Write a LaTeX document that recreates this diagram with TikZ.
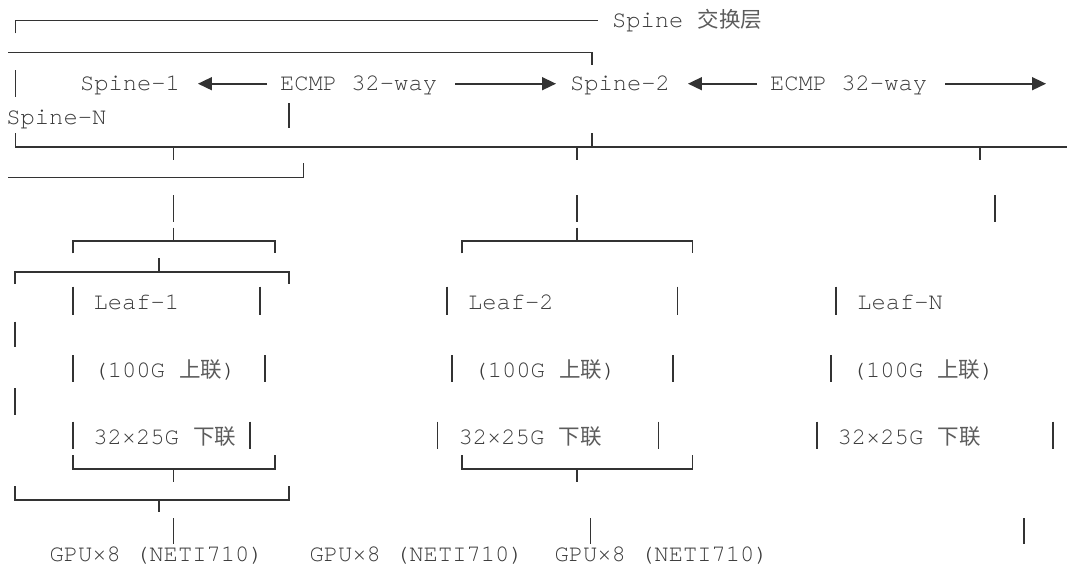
\documentclass[tikz,border=0pt]{standalone}
\usepackage{fontspec}
\setmainfont{TeX Gyre Cursor}
\newfontfamily\cjk{Noto Sans CJK SC}
\usepackage{tikz}
\usetikzlibrary{arrows.meta}
\definecolor{inkline}{HTML}{333333}
\definecolor{inktext}{HTML}{3A3A3A}
\definecolor{inkcjk}{HTML}{5C5C5C}
\newcommand{\monosize}{\fontsize{23.8pt}{28pt}\selectfont}
\newcommand{\zh}[1]{{\cjk\fontsize{21.5pt}{26pt}\selectfont\color{inkcjk}#1}}
\tikzstyle{asciitext}=[anchor=base west, inner sep=0, outer sep=0, text height=14pt, text depth=0pt, text=inktext, font=\monosize]
\tikzstyle{wire}=[draw=inkline, line width=1.6pt]
\tikzstyle{ecmplink}=[wire, line width=1.6pt, -{Triangle[length=14pt, width=13pt]}]
\tikzstyle{asciiart}=[x=1pt, y=-1pt,
                      % Fix the page to the size of the screen dump.
                      execute at begin picture={\useasboundingbox (0, 0) rectangle (1067, 576);}]

\begin{document}
\begin{tikzpicture}[asciiart]
        % Spine layer
        \node[asciitext] (title) at (612, 27.3) {Spine \zh{交换层}};
        \coordinate (topleft) at (15.3, 33.3);
        \draw[wire] (topleft) |- ([xshift=-14pt]title.west);
        \draw[wire] (8.4, 52.3) -| (591.7, 65);
        \draw[wire] (15.3, 70) -- +(0, 26.7);
        \node[asciitext] (spine1) at (80, 90.7) {Spine-1};
        \node[asciitext] (ecmp1) at (280, 90.7) {ECMP 32-way};
        \node[asciitext] (spine2) at (570, 90.7) {Spine-2};
        \node[asciitext] (ecmp2) at (770, 90.7) {ECMP 32-way};
        \coordinate (wrapN) at (1046, 83.7);
        \draw[ecmplink, shorten <=13pt, shorten >=18pt] (ecmp1.west) -- (spine1.east);
        \draw[ecmplink, shorten <=18pt, shorten >=14pt] (ecmp1.east) -- (spine2.west);
        \draw[ecmplink, shorten <=13pt, shorten >=18pt] (ecmp2.west) -- (spine2.east);
        \draw[ecmplink, shorten <=18pt] (ecmp2.east) -- (wrapN);
        \node[asciitext] (spineN) at (6.4, 124) {Spine-N};
        \draw[wire] (289, 103) -- +(0, 25);
        \draw[wire] (15.3, 133) |- (1067, 146.7);
        \draw[wire] (591.7, 133) -- +(0, 13.7);
        \draw[wire] (173.3, 146.7) -- +(0, 13.3);
        \draw[wire] (576.7, 146.7) -- +(0, 13.3);
        \draw[wire] (980, 146.7) -- +(0, 13.3);
        \draw[wire] (8.4, 177.3) -| (303.3, 163.3);
        \draw[wire] (173.3, 195) -- +(0, 26.7);
        \draw[wire] (576.7, 195) -- +(0, 26.7);
        \draw[wire] (995, 195) -- +(0, 26.7);

        % Leaf-1
        \draw[wire] (173.3, 227.7) -- +(0, 13);
        \draw[wire] (72.7, 253.3) |- (275, 240.7) -- +(0, 12.6);
        \draw[wire] (159, 258.3) -- +(0, 13.4);
        \draw[wire] (15, 284) |- (289, 271.7) -- +(0, 12.3);
        \node[asciitext] (leaf1) at (93.5, 309.3) {Leaf-1};
        \node[asciitext] (up1) at (93.5, 377) {(100G \zh{上联})};
        \node[asciitext] (down1) at (93.3, 444) {32×25G \zh{下联}};
        \draw[wire] (72.7, 286.7) -- +(0, 28);
        \draw[wire] (260, 286.7) -- +(0, 28);
        \draw[wire] (15, 321.7) -- +(0, 25);
        \draw[wire] (72.7, 355) -- +(0, 27);
        \draw[wire] (265, 355) -- +(0, 27);
        \draw[wire] (15, 388) -- +(0, 27);
        \draw[wire] (72.7, 421.7) -- +(0, 27.6);
        \draw[wire] (250, 421.7) -- +(0, 27.6);
        \draw[wire] (72.7, 455) |- (275, 468.7) -- +(0, -13.7);
        \draw[wire] (173.3, 468.7) -- +(0, 13);
        \draw[wire] (15, 486) |- (289, 500) -- +(0, -14);
        \draw[wire] (159, 500) -- +(0, 12.3);
        \draw[wire] (173.3, 518.3) -- +(0, 25.7);

        % Leaf-2
        \draw[wire] (576.7, 227.7) -- +(0, 13);
        \draw[wire] (461.7, 253.3) |- (692.3, 240.7) -- +(0, 12.6);
        \node[asciitext] (leaf2) at (468, 309.3) {Leaf-2};
        \node[asciitext] (up2) at (473.5, 377) {(100G \zh{上联})};
        \node[asciitext] (down2) at (458.6, 444) {32×25G \zh{下联}};
        \draw[wire] (446.7, 286.7) -- +(0, 28);
        \draw[wire] (677.3, 286.7) -- +(0, 28);
        \draw[wire] (451.7, 355) -- +(0, 27);
        \draw[wire] (672.7, 355) -- +(0, 27);
        \draw[wire] (437.3, 421.7) -- +(0, 27.6);
        \draw[wire] (658.3, 421.7) -- +(0, 27.6);
        \draw[wire] (461.7, 455) |- (692.3, 468.7) -- +(0, -13.7);
        \draw[wire] (576.7, 468.7) -- +(0, 13);
        \draw[wire] (590.5, 518.3) -- +(0, 25.7);

        % Leaf-N
        \node[asciitext] (leafN) at (857.3, 309.3) {Leaf-N};
        \node[asciitext] (upN) at (851.8, 377) {(100G \zh{上联})};
        \node[asciitext] (downN) at (837.6, 444) {32×25G \zh{下联}};
        \draw[wire] (836, 286.7) -- +(0, 28);
        \draw[wire] (831, 355) -- +(0, 27);
        \draw[wire] (816.7, 421.7) -- +(0, 27.6);
        \draw[wire] (1052.7, 421.7) -- +(0, 27.6);
        \draw[wire] (1024, 518.3) -- +(0, 25.7);

        % GPU servers
        \node[asciitext] (gpu1) at (49.5, 561.7) {GPU×8 (NETI710)};
        \node[asciitext] (gpu2) at (309.5, 561.7) {GPU×8 (NETI710)};
        \node[asciitext] (gpu3) at (554.5, 561.7) {GPU×8 (NETI710)};
    \end{tikzpicture}
\end{document}
